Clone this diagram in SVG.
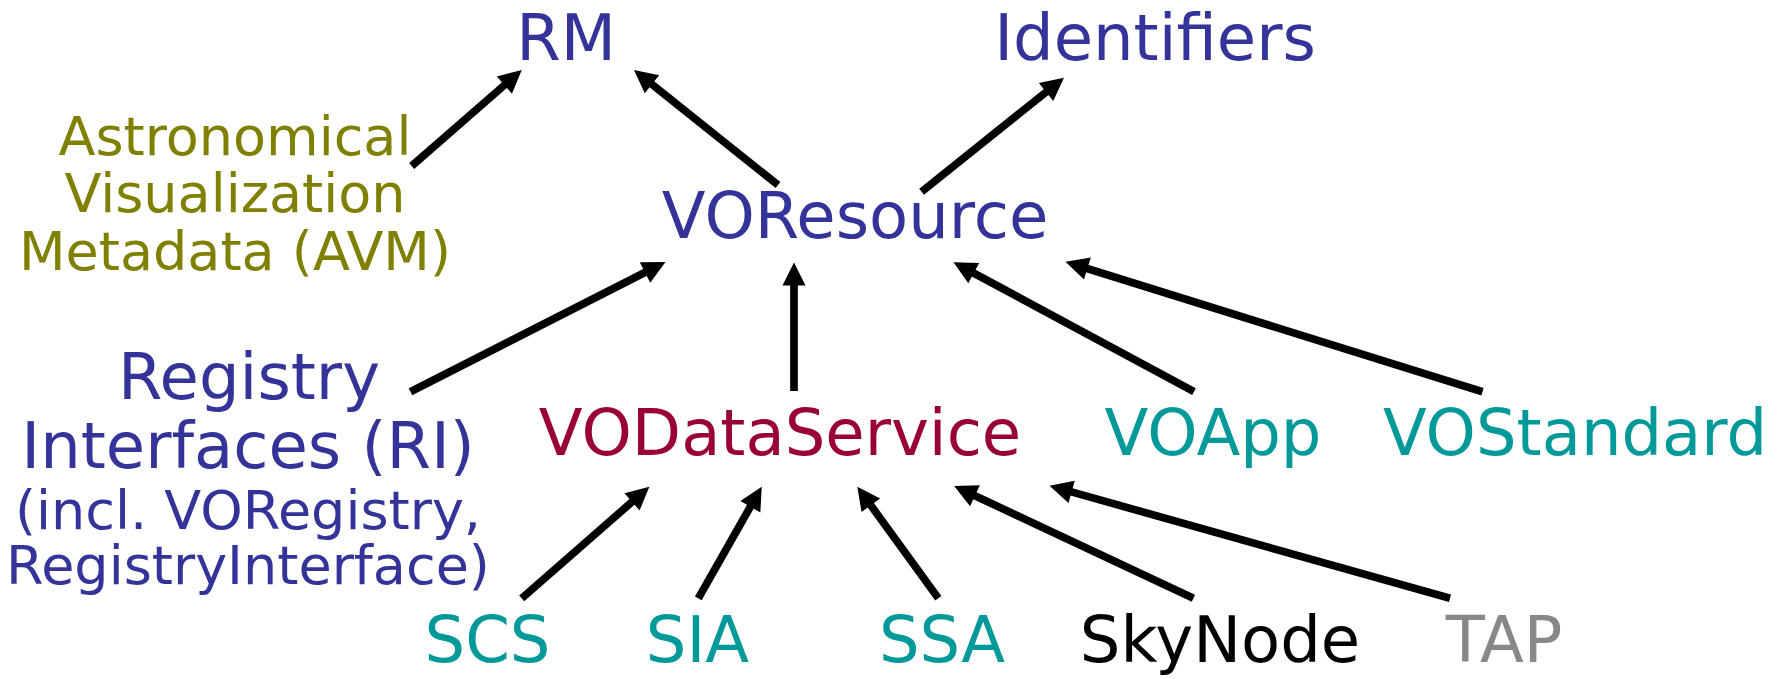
<svg xmlns="http://www.w3.org/2000/svg" width="1791" height="679" viewBox="0 0 1791 679">
<style>
text { font-family: "DejaVu Sans", "Liberation Sans", sans-serif; text-anchor: middle; }
.big { font-size: 64px; }
.small { font-size: 54px; }
.blue { fill: #333399; }
.olive { fill: #808000; }
.red { fill: #990033; }
.teal { fill: #009999; }
.gray { fill: #888888; }
.black { fill: #000000; }
.edge { stroke: #000; stroke-width: 7.7; fill: none; marker-end: url(#arrow); }
</style>
<defs>
<marker id="arrow" markerUnits="userSpaceOnUse" markerWidth="23" markerHeight="23" refX="13" refY="11.5" orient="auto" overflow="visible">
<path d="M0,0 L23,11.5 L0,23 z" fill="#000"/>
</marker>
</defs>
<rect width="1791" height="679" fill="#fff"/>
<g id="connectors">
<line class="edge" x1="411.7" y1="166" x2="514.2" y2="76.6"/>
<line class="edge" x1="778" y1="185" x2="641.8" y2="76.2"/>
<line class="edge" x1="921.6" y1="191.7" x2="1056.2" y2="83.9"/>
<line class="edge" x1="410.5" y1="391.7" x2="656.6" y2="266.5"/>
<line class="edge" x1="794" y1="391" x2="794" y2="272.5"/>
<line class="edge" x1="1194" y1="391.7" x2="962.3" y2="267"/>
<line class="edge" x1="1482.5" y1="391.7" x2="1075" y2="264.7"/>
<line class="edge" x1="521.7" y1="598.3" x2="641.8" y2="493.3"/>
<line class="edge" x1="698.3" y1="598.3" x2="756.8" y2="495.4"/>
<line class="edge" x1="938.3" y1="598.3" x2="863.2" y2="494.8"/>
<line class="edge" x1="1193.4" y1="598.3" x2="963.2" y2="490.2"/>
<line class="edge" x1="1450" y1="598.3" x2="1059.1" y2="488.4"/>
</g>
<g id="RM"><text class="big blue" x="566" y="60">RM</text></g>
<g id="Identifiers"><text class="big blue" x="1155" y="60">Identifiers</text></g>
<g id="AVM">
<text class="small olive" x="235" y="155">Astronomical</text>
<text class="small olive" x="235" y="212">Visualization</text>
<text class="small olive" x="235" y="270">Metadata (AVM)</text>
</g>
<g id="VOResource"><text class="big blue" x="855" y="238">VOResource</text></g>
<g id="RI">
<text class="big blue" x="249" y="399">Registry</text>
<text class="big blue" x="248" y="467.7">Interfaces (RI)</text>
<text class="small blue" x="248" y="529">(incl. VORegistry,</text>
<text class="small blue" x="248" y="584">RegistryInterface)</text>
</g>
<g id="VODataService"><text class="big red" x="780" y="455">VODataService</text></g>
<g id="VOApp"><text class="big teal" x="1213" y="455">VOApp</text></g>
<g id="VOStandard"><text class="big teal" x="1575" y="455">VOStandard</text></g>
<g id="SCS"><text class="big teal" x="487.5" y="662">SCS</text></g>
<g id="SIA"><text class="big teal" x="697.5" y="662">SIA</text></g>
<g id="SSA"><text class="big teal" x="942" y="662">SSA</text></g>
<g id="SkyNode"><text class="big black" x="1220" y="662">SkyNode</text></g>
<g id="TAP"><text class="big gray" x="1504" y="662">TAP</text></g>
</svg>
